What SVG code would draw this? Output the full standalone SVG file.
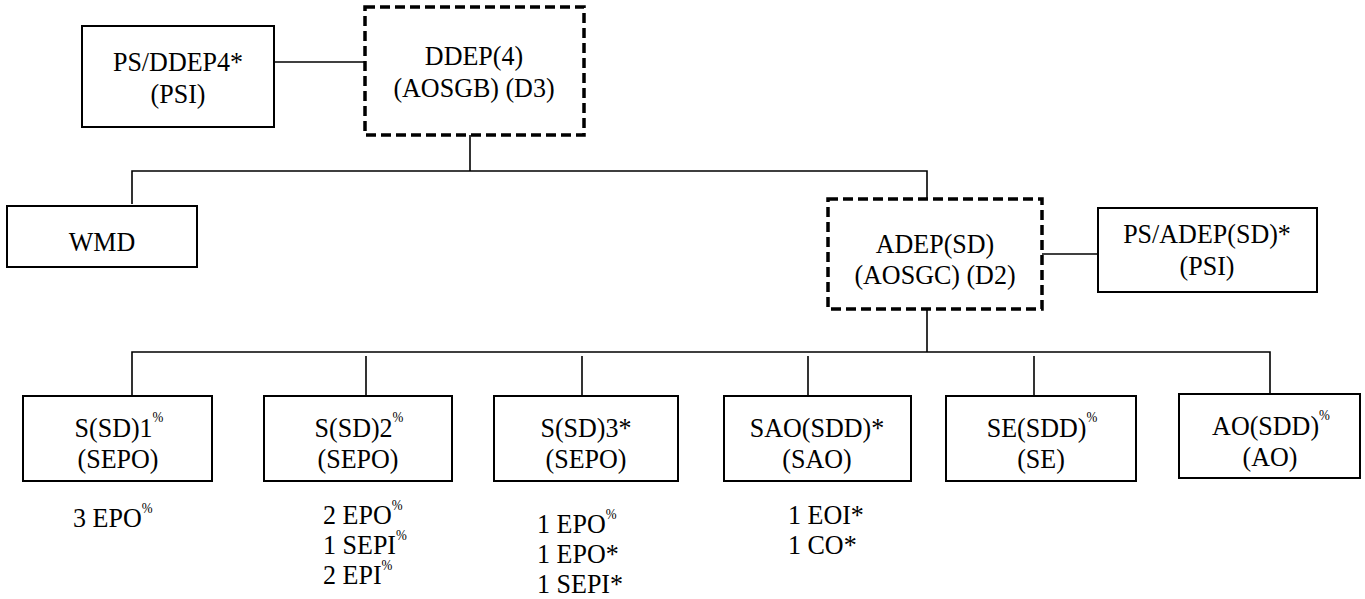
<svg xmlns="http://www.w3.org/2000/svg" width="1365" height="599" viewBox="0 0 1365 599">
<style>
text{font-family:"Liberation Serif","Times New Roman",serif;font-size:28px;fill:#000}
.c{text-anchor:middle}
.box{fill:#fff;stroke:#000;stroke-width:2}
.dash{fill:#fff;stroke:#000;stroke-width:3.5;stroke-dasharray:10 5}
.ln{stroke:#000;stroke-width:1.6;fill:none}
.sup{font-size:14px}
</style>
<rect width="1365" height="599" fill="#fff"/>
<g id="connectors">
<line class="ln" x1="274" y1="62" x2="365" y2="62"/>
<line class="ln" x1="470" y1="135" x2="470" y2="171"/>
<polyline class="ln" points="132,204 132,171 927,171 927,199"/>
<line class="ln" x1="1042" y1="254" x2="1098" y2="254"/>
<line class="ln" x1="927" y1="309" x2="927" y2="352"/>
<polyline class="ln" points="132,396 132,352 1270,352 1270,394"/>
<line class="ln" x1="366" y1="356" x2="366" y2="396"/>
<line class="ln" x1="582" y1="356" x2="582" y2="396"/>
<line class="ln" x1="808" y1="356" x2="808" y2="396"/>
<line class="ln" x1="1034" y1="356" x2="1034" y2="396"/>
</g>
<g id="ps-ddep4">
<rect class="box" x="82" y="26" width="192" height="101"/>
<text class="c" transform="matrix(0.93,0,0,1,178,71)">PS/DDEP4*</text>
<text class="c" transform="matrix(0.93,0,0,1,178,103)">(PSI)</text>
</g>
<g id="ddep4">
<rect class="dash" x="365" y="7" width="219" height="128"/>
<text class="c" transform="matrix(0.93,0,0,1,474,65)">DDEP(4)</text>
<text class="c" transform="matrix(0.93,0,0,1,474,97)">(AOSGB) (D3)</text>
</g>
<g id="wmd">
<rect class="box" x="7" y="206" width="190" height="61"/>
<text class="c" transform="matrix(0.93,0,0,1,102,251)">WMD</text>
</g>
<g id="adep">
<rect class="dash" x="828" y="199" width="214" height="110"/>
<text class="c" transform="matrix(0.93,0,0,1,935,253)">ADEP(SD)</text>
<text class="c" transform="matrix(0.93,0,0,1,935,284)">(AOSGC) (D2)</text>
</g>
<g id="ps-adep">
<rect class="box" x="1098" y="208" width="219" height="84"/>
<text class="c" transform="matrix(0.93,0,0,1,1207,243)">PS/ADEP(SD)*</text>
<text class="c" transform="matrix(0.93,0,0,1,1207,275)">(PSI)</text>
</g>
<g id="ssd1">
<rect class="box" x="23" y="396" width="189" height="85"/>
<text class="c" transform="matrix(0.93,0,0,1,119,437)">S(SD)1<tspan class="sup" dy="-15">%</tspan></text>
<text class="c" transform="matrix(0.93,0,0,1,118,468)">(SEPO)</text>
<text transform="matrix(0.93,0,0,1,73,527)">3 EPO<tspan class="sup" dy="-14">%</tspan></text>
</g>
<g id="ssd2">
<rect class="box" x="264" y="396" width="188" height="85"/>
<text class="c" transform="matrix(0.93,0,0,1,359,437)">S(SD)2<tspan class="sup" dy="-15">%</tspan></text>
<text class="c" transform="matrix(0.93,0,0,1,358,468)">(SEPO)</text>
<text transform="matrix(0.93,0,0,1,323,524)">2 EPO<tspan class="sup" dy="-14">%</tspan></text>
<text transform="matrix(0.93,0,0,1,323,554)">1 SEPI<tspan class="sup" dy="-14">%</tspan></text>
<text transform="matrix(0.93,0,0,1,323,584)">2 EPI<tspan class="sup" dy="-14">%</tspan></text>
</g>
<g id="ssd3">
<rect class="box" x="494" y="396" width="184" height="85"/>
<text class="c" transform="matrix(0.93,0,0,1,586,437)">S(SD)3*</text>
<text class="c" transform="matrix(0.93,0,0,1,586,468)">(SEPO)</text>
<text transform="matrix(0.93,0,0,1,537,533)">1 EPO<tspan class="sup" dy="-14">%</tspan></text>
<text transform="matrix(0.93,0,0,1,537,563)">1 EPO*</text>
<text transform="matrix(0.93,0,0,1,537,593)">1 SEPI*</text>
</g>
<g id="sao">
<rect class="box" x="724" y="396" width="187" height="85"/>
<text class="c" transform="matrix(0.93,0,0,1,817,437)">SAO(SDD)*</text>
<text class="c" transform="matrix(0.93,0,0,1,817,468)">(SAO)</text>
<text transform="matrix(0.93,0,0,1,788,524)">1 EOI*</text>
<text transform="matrix(0.93,0,0,1,788,554)">1 CO*</text>
</g>
<g id="se">
<rect class="box" x="946" y="396" width="190" height="85"/>
<text class="c" transform="matrix(0.93,0,0,1,1042,437)">SE(SDD)<tspan class="sup" dy="-15">%</tspan></text>
<text class="c" transform="matrix(0.93,0,0,1,1041,468)">(SE)</text>
</g>
<g id="ao">
<rect class="box" x="1179" y="394" width="181" height="84"/>
<text class="c" transform="matrix(0.93,0,0,1,1271,435)">AO(SDD)<tspan class="sup" dy="-15">%</tspan></text>
<text class="c" transform="matrix(0.93,0,0,1,1270,466)">(AO)</text>
</g>
</svg>
